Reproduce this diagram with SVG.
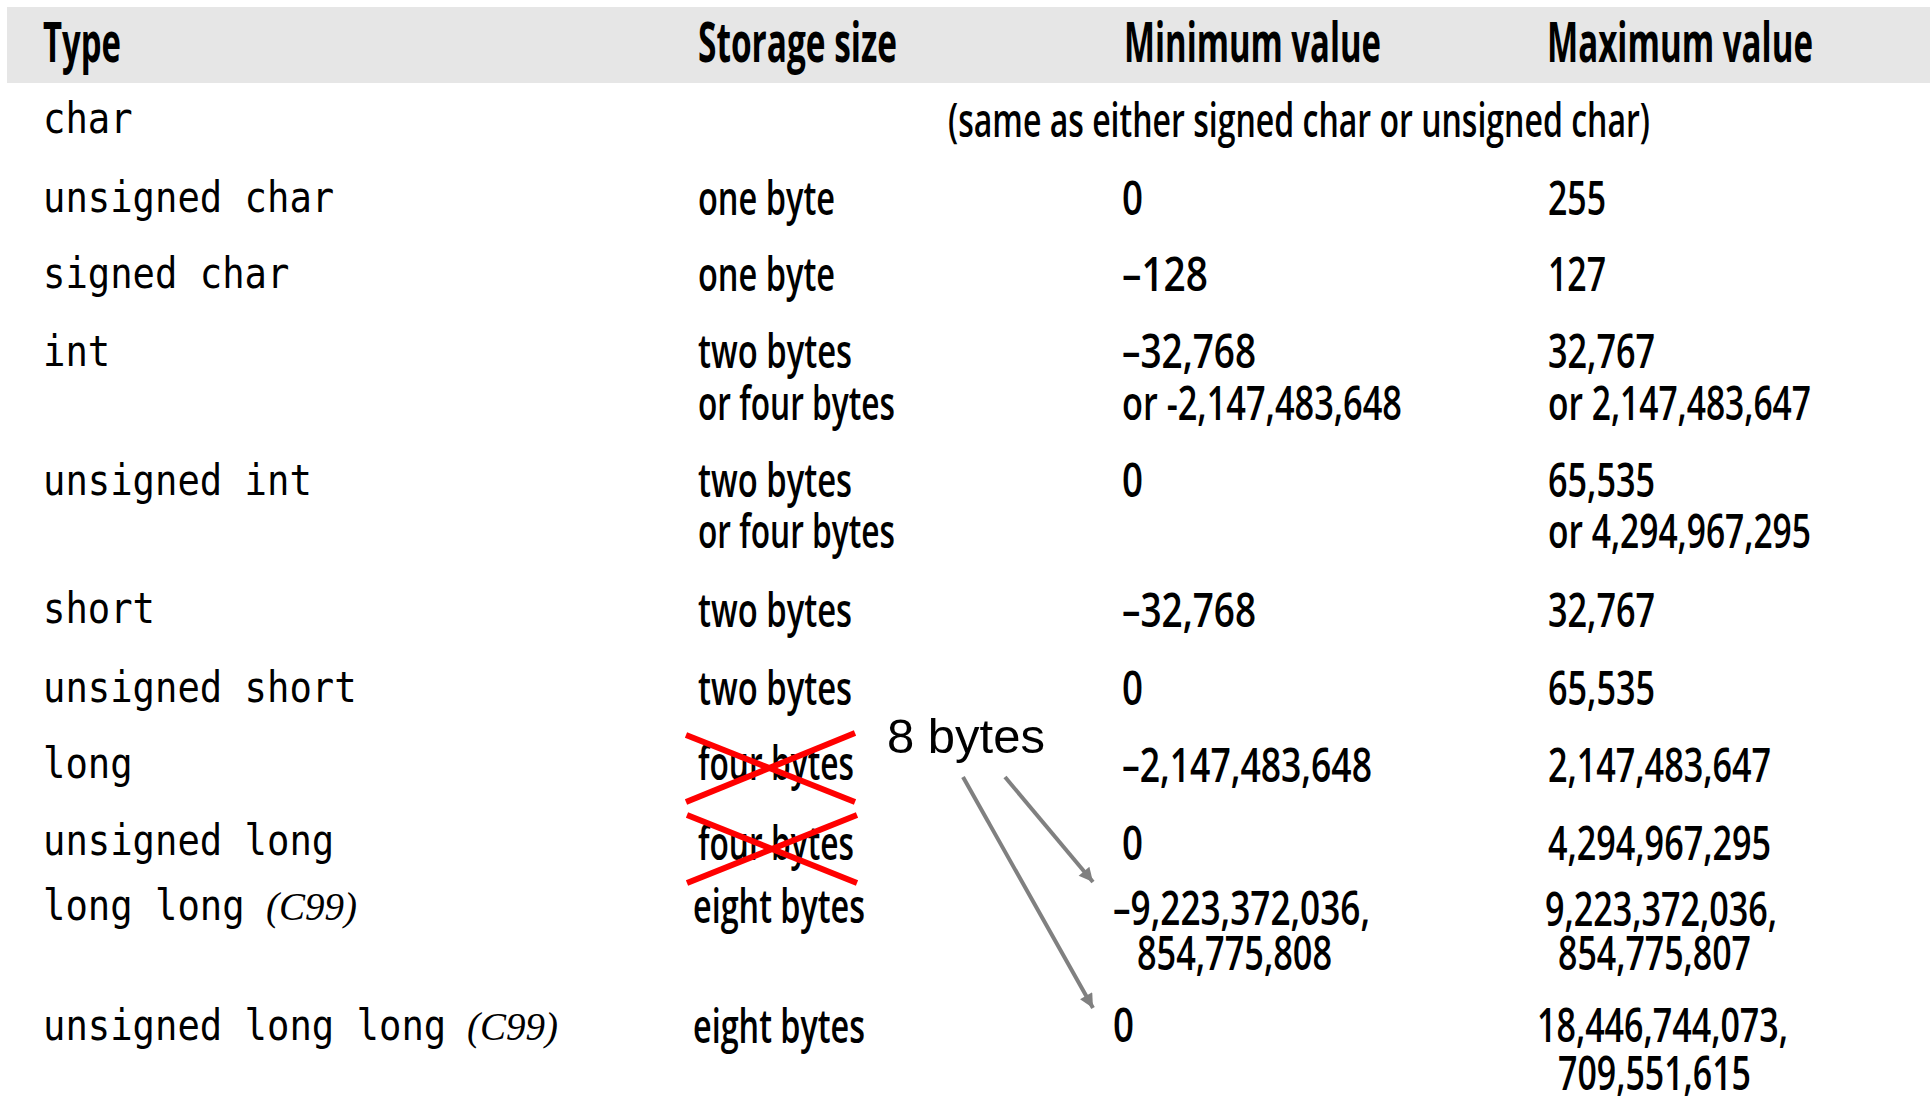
<svg xmlns="http://www.w3.org/2000/svg" width="1930" height="1097" viewBox="0 0 1930 1097">
<style>
  .bg { fill: #ffffff; }
  .band { fill: #e6e6e6; }
  .h { font-family: "Open Sans", "Liberation Sans", sans-serif; font-size: 55px; font-weight: 700; fill: #000; }
  .v { font-family: "Open Sans", "Liberation Sans", sans-serif; font-size: 47px; font-weight: 600; fill: #000; }
  .m { font-family: "DejaVu Sans Mono", "Liberation Mono", monospace; font-size: 43px; fill: #000; }
  .c { font-family: "Liberation Serif", serif; font-style: italic; font-size: 39px; fill: #000; }
  .note { font-family: "Liberation Sans", Arial, sans-serif; font-size: 49px; fill: #000; }
  .cross { stroke: #ff0000; stroke-width: 6; stroke-linecap: butt; }
  .arrow { stroke: #808080; stroke-width: 4; fill: none; }
</style>
<defs>
  <marker id="ah" viewBox="0 0 10 10" refX="10" refY="5" markerWidth="18" markerHeight="14" markerUnits="userSpaceOnUse" orient="auto">
    <path d="M0,0 L10,5 L0,10 z" fill="#808080"/>
  </marker>
</defs>
<rect class="bg" x="0" y="0" width="1930" height="1097"/>

<g id="header">
  <rect class="band" x="7" y="7" width="1923" height="76"/>
  <text class="h" x="43" y="62" textLength="78" lengthAdjust="spacingAndGlyphs">Type</text>
  <text class="h" x="698" y="62" textLength="199" lengthAdjust="spacingAndGlyphs">Storage size</text>
  <text class="h" x="1124" y="62" textLength="257" lengthAdjust="spacingAndGlyphs">Minimum value</text>
  <text class="h" x="1547" y="62" textLength="266" lengthAdjust="spacingAndGlyphs">Maximum value</text>
</g>

<g id="row-char">
  <text class="m" x="43" y="133" textLength="89.6" lengthAdjust="spacingAndGlyphs">char</text>
  <text class="v" x="948" y="137" textLength="702" lengthAdjust="spacingAndGlyphs">(same as either signed char or unsigned char)</text>
</g>

<g id="row-unsigned-char">
  <text class="m" x="43" y="212" textLength="291.2" lengthAdjust="spacingAndGlyphs">unsigned char</text>
  <text class="v" x="698" y="215" textLength="137" lengthAdjust="spacingAndGlyphs">one byte</text>
  <text class="v" x="1122" y="215" textLength="21" lengthAdjust="spacingAndGlyphs">0</text>
  <text class="v" x="1548" y="215" textLength="58" lengthAdjust="spacingAndGlyphs">255</text>
</g>

<g id="row-signed-char">
  <text class="m" x="43" y="288" textLength="246.4" lengthAdjust="spacingAndGlyphs">signed char</text>
  <text class="v" x="698" y="291" textLength="137" lengthAdjust="spacingAndGlyphs">one byte</text>
  <text class="v" x="1122" y="291" textLength="86" lengthAdjust="spacingAndGlyphs">–128</text>
  <text class="v" x="1548" y="291" textLength="58" lengthAdjust="spacingAndGlyphs">127</text>
</g>

<g id="row-int">
  <text class="m" x="43" y="366" textLength="67.2" lengthAdjust="spacingAndGlyphs">int</text>
  <text class="v" x="698" y="368" textLength="154" lengthAdjust="spacingAndGlyphs">two bytes</text>
  <text class="v" x="698" y="420" textLength="197" lengthAdjust="spacingAndGlyphs">or four bytes</text>
  <text class="v" x="1122" y="368" textLength="134" lengthAdjust="spacingAndGlyphs">–32,768</text>
  <text class="v" x="1122" y="420" textLength="280" lengthAdjust="spacingAndGlyphs">or -2,147,483,648</text>
  <text class="v" x="1548" y="368" textLength="107" lengthAdjust="spacingAndGlyphs">32,767</text>
  <text class="v" x="1548" y="420" textLength="263" lengthAdjust="spacingAndGlyphs">or 2,147,483,647</text>
</g>

<g id="row-unsigned-int">
  <text class="m" x="43" y="495" textLength="268.8" lengthAdjust="spacingAndGlyphs">unsigned int</text>
  <text class="v" x="698" y="497" textLength="154" lengthAdjust="spacingAndGlyphs">two bytes</text>
  <text class="v" x="698" y="548" textLength="197" lengthAdjust="spacingAndGlyphs">or four bytes</text>
  <text class="v" x="1122" y="497" textLength="21" lengthAdjust="spacingAndGlyphs">0</text>
  <text class="v" x="1548" y="497" textLength="107" lengthAdjust="spacingAndGlyphs">65,535</text>
  <text class="v" x="1548" y="548" textLength="263" lengthAdjust="spacingAndGlyphs">or 4,294,967,295</text>
</g>

<g id="row-short">
  <text class="m" x="43" y="623" textLength="112" lengthAdjust="spacingAndGlyphs">short</text>
  <text class="v" x="698" y="627" textLength="154" lengthAdjust="spacingAndGlyphs">two bytes</text>
  <text class="v" x="1122" y="627" textLength="134" lengthAdjust="spacingAndGlyphs">–32,768</text>
  <text class="v" x="1548" y="627" textLength="107" lengthAdjust="spacingAndGlyphs">32,767</text>
</g>

<g id="row-unsigned-short">
  <text class="m" x="43" y="702" textLength="313.6" lengthAdjust="spacingAndGlyphs">unsigned short</text>
  <text class="v" x="698" y="705" textLength="154" lengthAdjust="spacingAndGlyphs">two bytes</text>
  <text class="v" x="1122" y="705" textLength="21" lengthAdjust="spacingAndGlyphs">0</text>
  <text class="v" x="1548" y="705" textLength="107" lengthAdjust="spacingAndGlyphs">65,535</text>
</g>

<g id="row-long">
  <text class="m" x="43" y="778" textLength="89.6" lengthAdjust="spacingAndGlyphs">long</text>
  <text class="v" x="698" y="780" textLength="156" lengthAdjust="spacingAndGlyphs">four bytes</text>
  <text class="v" x="1122" y="782" textLength="250" lengthAdjust="spacingAndGlyphs">–2,147,483,648</text>
  <text class="v" x="1548" y="782" textLength="223" lengthAdjust="spacingAndGlyphs">2,147,483,647</text>
</g>

<g id="row-unsigned-long">
  <text class="m" x="43" y="855" textLength="291.2" lengthAdjust="spacingAndGlyphs">unsigned long</text>
  <text class="v" x="698" y="860" textLength="156" lengthAdjust="spacingAndGlyphs">four bytes</text>
  <text class="v" x="1122" y="860" textLength="21" lengthAdjust="spacingAndGlyphs">0</text>
  <text class="v" x="1548" y="860" textLength="223" lengthAdjust="spacingAndGlyphs">4,294,967,295</text>
</g>

<g id="row-long-long">
  <text class="m" x="43" y="920" textLength="201.6" lengthAdjust="spacingAndGlyphs">long long</text>
  <text class="c" x="266" y="920">(C99)</text>
  <text class="v" x="693" y="923" textLength="172" lengthAdjust="spacingAndGlyphs">eight bytes</text>
  <text class="v" x="1113" y="925" textLength="257" lengthAdjust="spacingAndGlyphs">–9,223,372,036,</text>
  <text class="v" x="1137" y="970" textLength="195" lengthAdjust="spacingAndGlyphs">854,775,808</text>
  <text class="v" x="1545" y="926" textLength="232" lengthAdjust="spacingAndGlyphs">9,223,372,036,</text>
  <text class="v" x="1558" y="970" textLength="193" lengthAdjust="spacingAndGlyphs">854,775,807</text>
</g>

<g id="row-unsigned-long-long">
  <text class="m" x="43" y="1040" textLength="403.2" lengthAdjust="spacingAndGlyphs">unsigned long long</text>
  <text class="c" x="467" y="1040">(C99)</text>
  <text class="v" x="693" y="1043" textLength="172" lengthAdjust="spacingAndGlyphs">eight bytes</text>
  <text class="v" x="1113" y="1042" textLength="21" lengthAdjust="spacingAndGlyphs">0</text>
  <text class="v" x="1537" y="1042" textLength="251" lengthAdjust="spacingAndGlyphs">18,446,744,073,</text>
  <text class="v" x="1558" y="1090" textLength="193" lengthAdjust="spacingAndGlyphs">709,551,615</text>
</g>

<g id="annotation">
  <text class="note" x="887" y="753">8 bytes</text>
</g>

<g id="crosses">
  <line class="cross" x1="686" y1="735" x2="855" y2="802"/>
  <line class="cross" x1="686" y1="802" x2="855" y2="733"/>
  <line class="cross" x1="687" y1="815" x2="857" y2="883"/>
  <line class="cross" x1="687" y1="883" x2="857" y2="815"/>
</g>

<g id="connectors">
  <line class="arrow" x1="1005" y1="777" x2="1093" y2="882" marker-end="url(#ah)"/>
  <line class="arrow" x1="963" y1="777" x2="1093" y2="1008" marker-end="url(#ah)"/>
</g>
</svg>
